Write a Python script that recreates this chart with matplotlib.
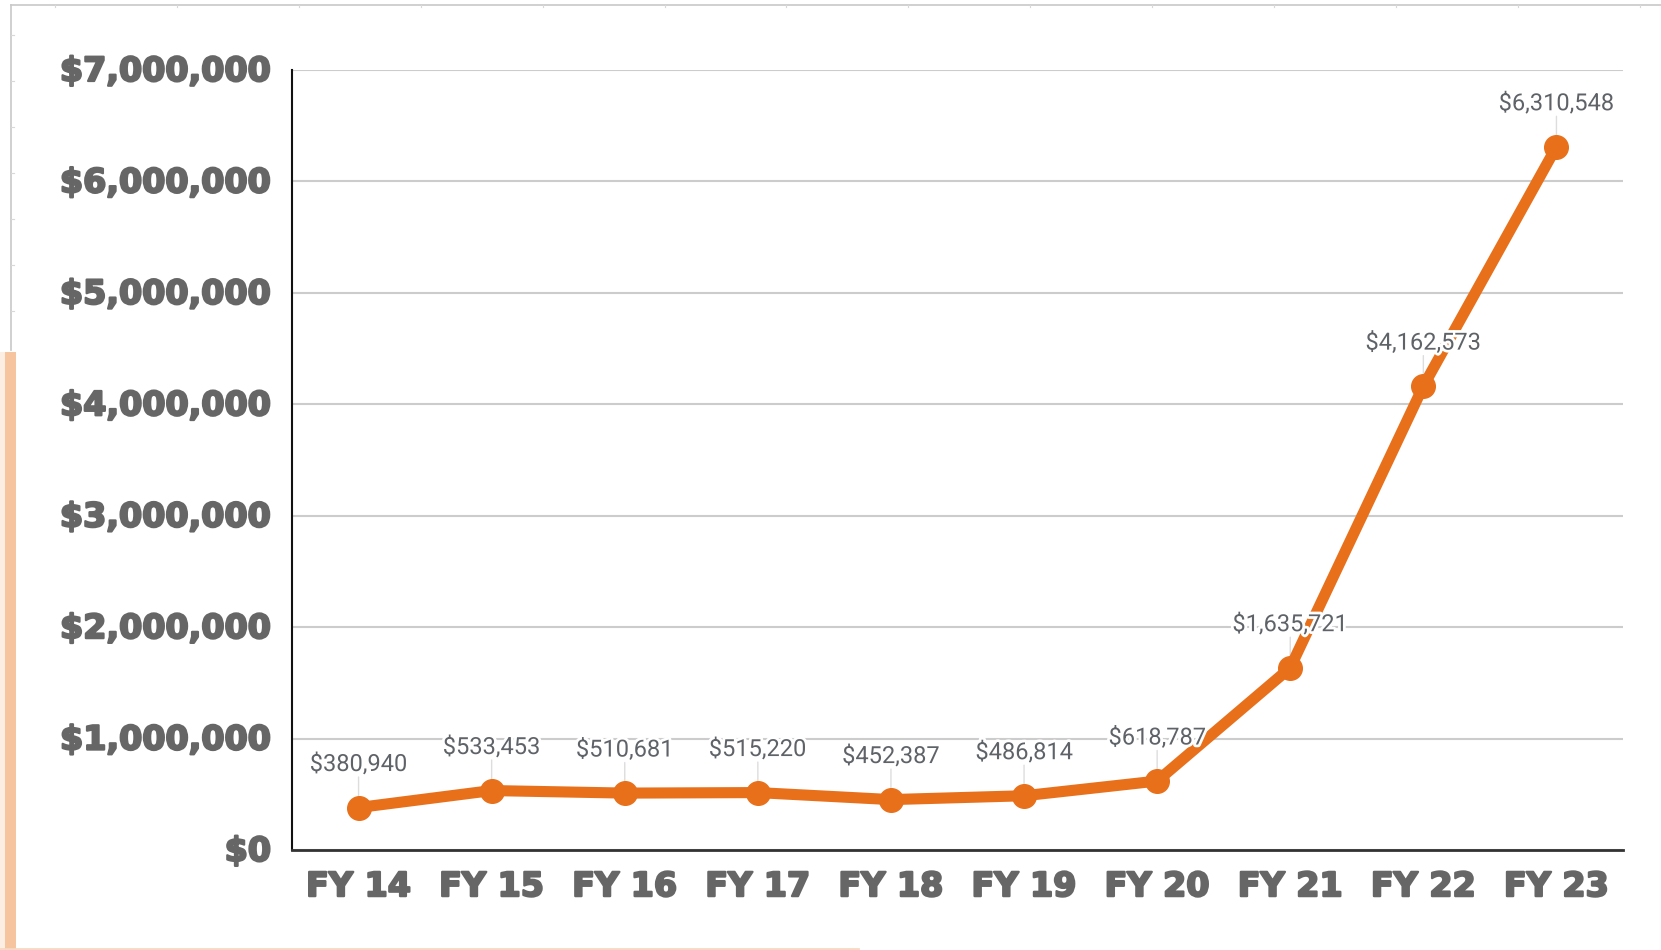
import numpy as np
import matplotlib.pyplot as plt
import matplotlib.patheffects as pe
import matplotlib.transforms as mtransforms
from matplotlib.lines import Line2D
from matplotlib.patches import Rectangle
from matplotlib.ticker import FuncFormatter

years = ['FY 14', 'FY 15', 'FY 16', 'FY 17', 'FY 18',
         'FY 19', 'FY 20', 'FY 21', 'FY 22', 'FY 23']
totals = [380940, 533453, 510681, 515220, 452387,
          486814, 618787, 1635721, 4162573, 6310548]
yticks = [0, 1000000, 2000000, 3000000, 4000000, 5000000, 6000000, 7000000]

W, H = 1661, 950
fig = plt.figure(figsize=(W / 100, H / 100), dpi=100)
ax = fig.add_axes([292 / W, 1 - 850 / H, (1623 - 292) / W, (850 - 70) / H])

orange = '#E8701A'
x = np.arange(len(years))

ax.plot(x, totals, color=orange, lw=8, marker='o', ms=17,
        solid_capstyle='round', zorder=3, clip_on=False)

# leader lines + value labels
for xi, v in zip(x, totals):
    ax.annotate('', xy=(xi, v), xytext=(0, 22), textcoords='offset points',
                arrowprops=dict(arrowstyle='-', color='#dddddd', lw=1,
                                shrinkA=0, shrinkB=0), zorder=2)
    ax.annotate(f'${v:,.0f}', xy=(xi, v), xytext=(0, 31),
                textcoords='offset points', ha='center', va='center',
                fontsize=17, family='Roboto', color='#5f6368', zorder=5,
                path_effects=[pe.withStroke(linewidth=4, foreground='white')])

ax.set_xlim(-0.5, len(years) - 0.5)
ax.set_ylim(0, 7000000)
ax.set_xticks(x)
ax.set_xticklabels(years)
ax.set_yticks(yticks)
ax.yaxis.set_major_formatter(FuncFormatter(lambda v, p: f'${v:,.0f}'))

heavy = [pe.withStroke(linewidth=1.6, foreground='#666666')]
for lab in ax.get_xticklabels() + ax.get_yticklabels():
    lab.set_fontfamily('DejaVu Sans')
    lab.set_fontweight('bold')
    lab.set_fontsize(24)
    lab.set_color('#666666')
    lab.set_path_effects(heavy)
ax.tick_params(axis='x', length=0, pad=14.5)
ax.tick_params(axis='y', length=0, pad=15)

# nudge y labels up slightly
shift = mtransforms.ScaledTranslation(0, 2 / 100, fig.dpi_scale_trans)
for lab in ax.get_yticklabels():
    lab.set_transform(lab.get_transform() + shift)

ax.grid(axis='y', color='#cccccc', lw=1.5, zorder=0)
ax.set_axisbelow(True)
ax.spines['top'].set_visible(False)
ax.spines['right'].set_visible(False)
ax.spines['left'].set_color('#111111')
ax.spines['left'].set_linewidth(1.5)
ax.spines['bottom'].set_color('#333333')
ax.spines['bottom'].set_linewidth(2)

# page decorations around the chart (screenshot frame)
fig.add_artist(Line2D([11 / W, 1], [1 - 4.5 / H] * 2, color='#c8c8c8', lw=1.2))
fig.add_artist(Line2D([11 / W] * 2, [1 - 4.5 / H, 1 - 350 / H], color='#c8c8c8', lw=1.2))
for tx in np.arange(55, W, 121.9):
    fig.add_artist(Line2D([tx / W] * 2, [1 - 4.5 / H, 1 - 7 / H], color='#d8d8d8', lw=0.8))
for ty in np.arange(35, 350, 46):
    fig.add_artist(Line2D([11 / W, 13.5 / W], [1 - ty / H] * 2, color='#d8d8d8', lw=0.8))
fig.add_artist(Rectangle((0, 0), 5 / W, 1 - 352 / H, color='#fdeee4', lw=0))
fig.add_artist(Rectangle((5 / W, 0), 10.5 / W, 1 - 352 / H, color='#f6c49e', lw=0))
fig.add_artist(Line2D([0, 858 / W], [1 - 948.5 / H] * 2, color='#f7d8c2', lw=2))

fig.savefig('out.png', dpi=100)
